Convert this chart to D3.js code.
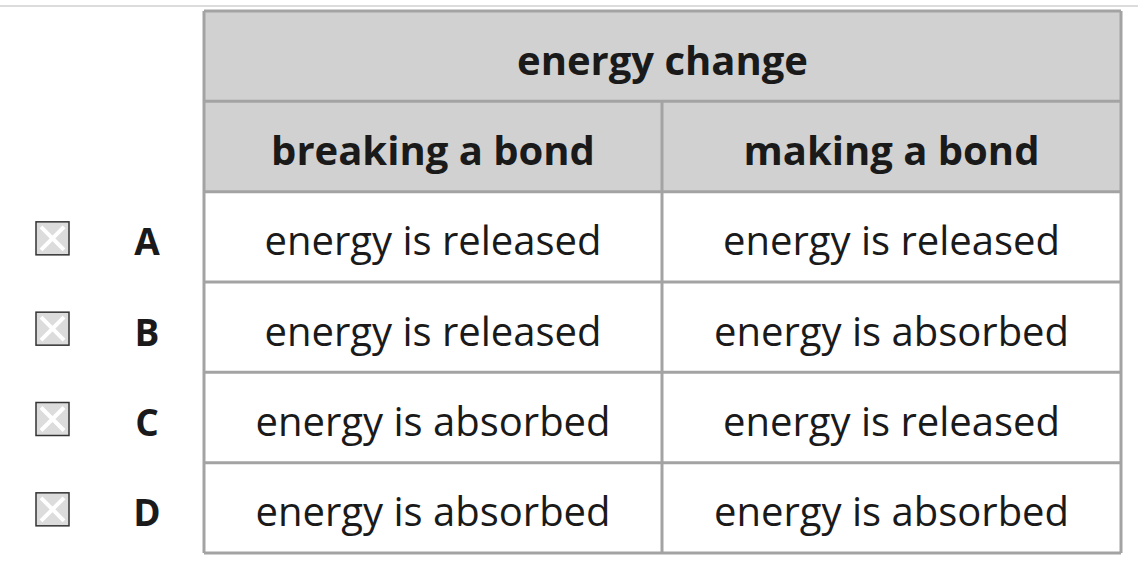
<!DOCTYPE html>
<html><head><meta charset="utf-8">
<script src="https://cdn.jsdelivr.net/npm/d3@7"></script>
<style>body{margin:0;background:#fff}</style></head>
<body><svg id="c" width="1138" height="568"></svg>
<script>
const title = "energy change";
const columns = ["breaking a bond", "making a bond"];
const options = ["A", "B", "C", "D"];
const breaking = ["energy is released", "energy is released", "energy is absorbed", "energy is absorbed"];
const making = ["energy is released", "energy is absorbed", "energy is released", "energy is absorbed"];

const svg = d3.select("#c");
const font = "'Open Sans', 'Noto Sans', sans-serif";
const L = 204, R = 1121, M = 662;
const y = d3.scaleLinear().domain([0, 6]).range([11, 553]);
const border = "#a3a3a3";

svg.append("line").attr("x1",0).attr("x2",1138).attr("y1",6).attr("y2",6).attr("stroke","#d0d0d0").attr("stroke-width",1.5);
svg.append("rect").attr("x",L).attr("y",y(0)).attr("width",R-L).attr("height",y(2)-y(0)).attr("fill","#d1d1d1");

for (let i = 0; i <= 6; i++) {
  svg.append("line").attr("x1",L).attr("x2",R).attr("y1",y(i)).attr("y2",y(i)).attr("stroke",border).attr("stroke-width",3);
}
svg.append("line").attr("x1",L).attr("x2",L).attr("y1",y(0)).attr("y2",y(6)).attr("stroke",border).attr("stroke-width",3);
svg.append("line").attr("x1",R).attr("x2",R).attr("y1",y(0)).attr("y2",y(6)).attr("stroke",border).attr("stroke-width",3);
svg.append("line").attr("x1",M).attr("x2",M).attr("y1",y(1)).attr("y2",y(6)).attr("stroke",border).attr("stroke-width",3);

function txt(x, yy, s, size, bold) {
  svg.append("text").attr("x",x).attr("y",yy).attr("text-anchor","middle").attr("dominant-baseline","central")
    .attr("font-family",font).attr("font-size",size).attr("font-weight",bold?700:400).attr("fill","#1a1a1a").text(s);
}
const mid = i => (y(i)+y(i+1))/2;
txt((L+R)/2, mid(0)+3, title, 40, true);
columns.forEach((c,j)=>txt(j?(M+R)/2:(L+M)/2, mid(1)+3, c, 40, true));
options.forEach((o,i)=>{
  const yy = mid(i+2);
  txt((L+M)/2, yy+3, breaking[i], 40, false);
  txt((M+R)/2, yy+3, making[i], 40, false);
  txt(147, yy+4, o, 37, true);
  const g = svg.append("g").attr("transform",`translate(36,${yy-15})`);
  g.append("rect").attr("width",33).attr("height",33).attr("fill","#dcdcdc").attr("stroke","#333").attr("stroke-width",1.5);
  g.append("path").attr("d","M5,5L28,28M28,5L5,28").attr("stroke","#fff").attr("stroke-width",4);
});
</script></body></html>
